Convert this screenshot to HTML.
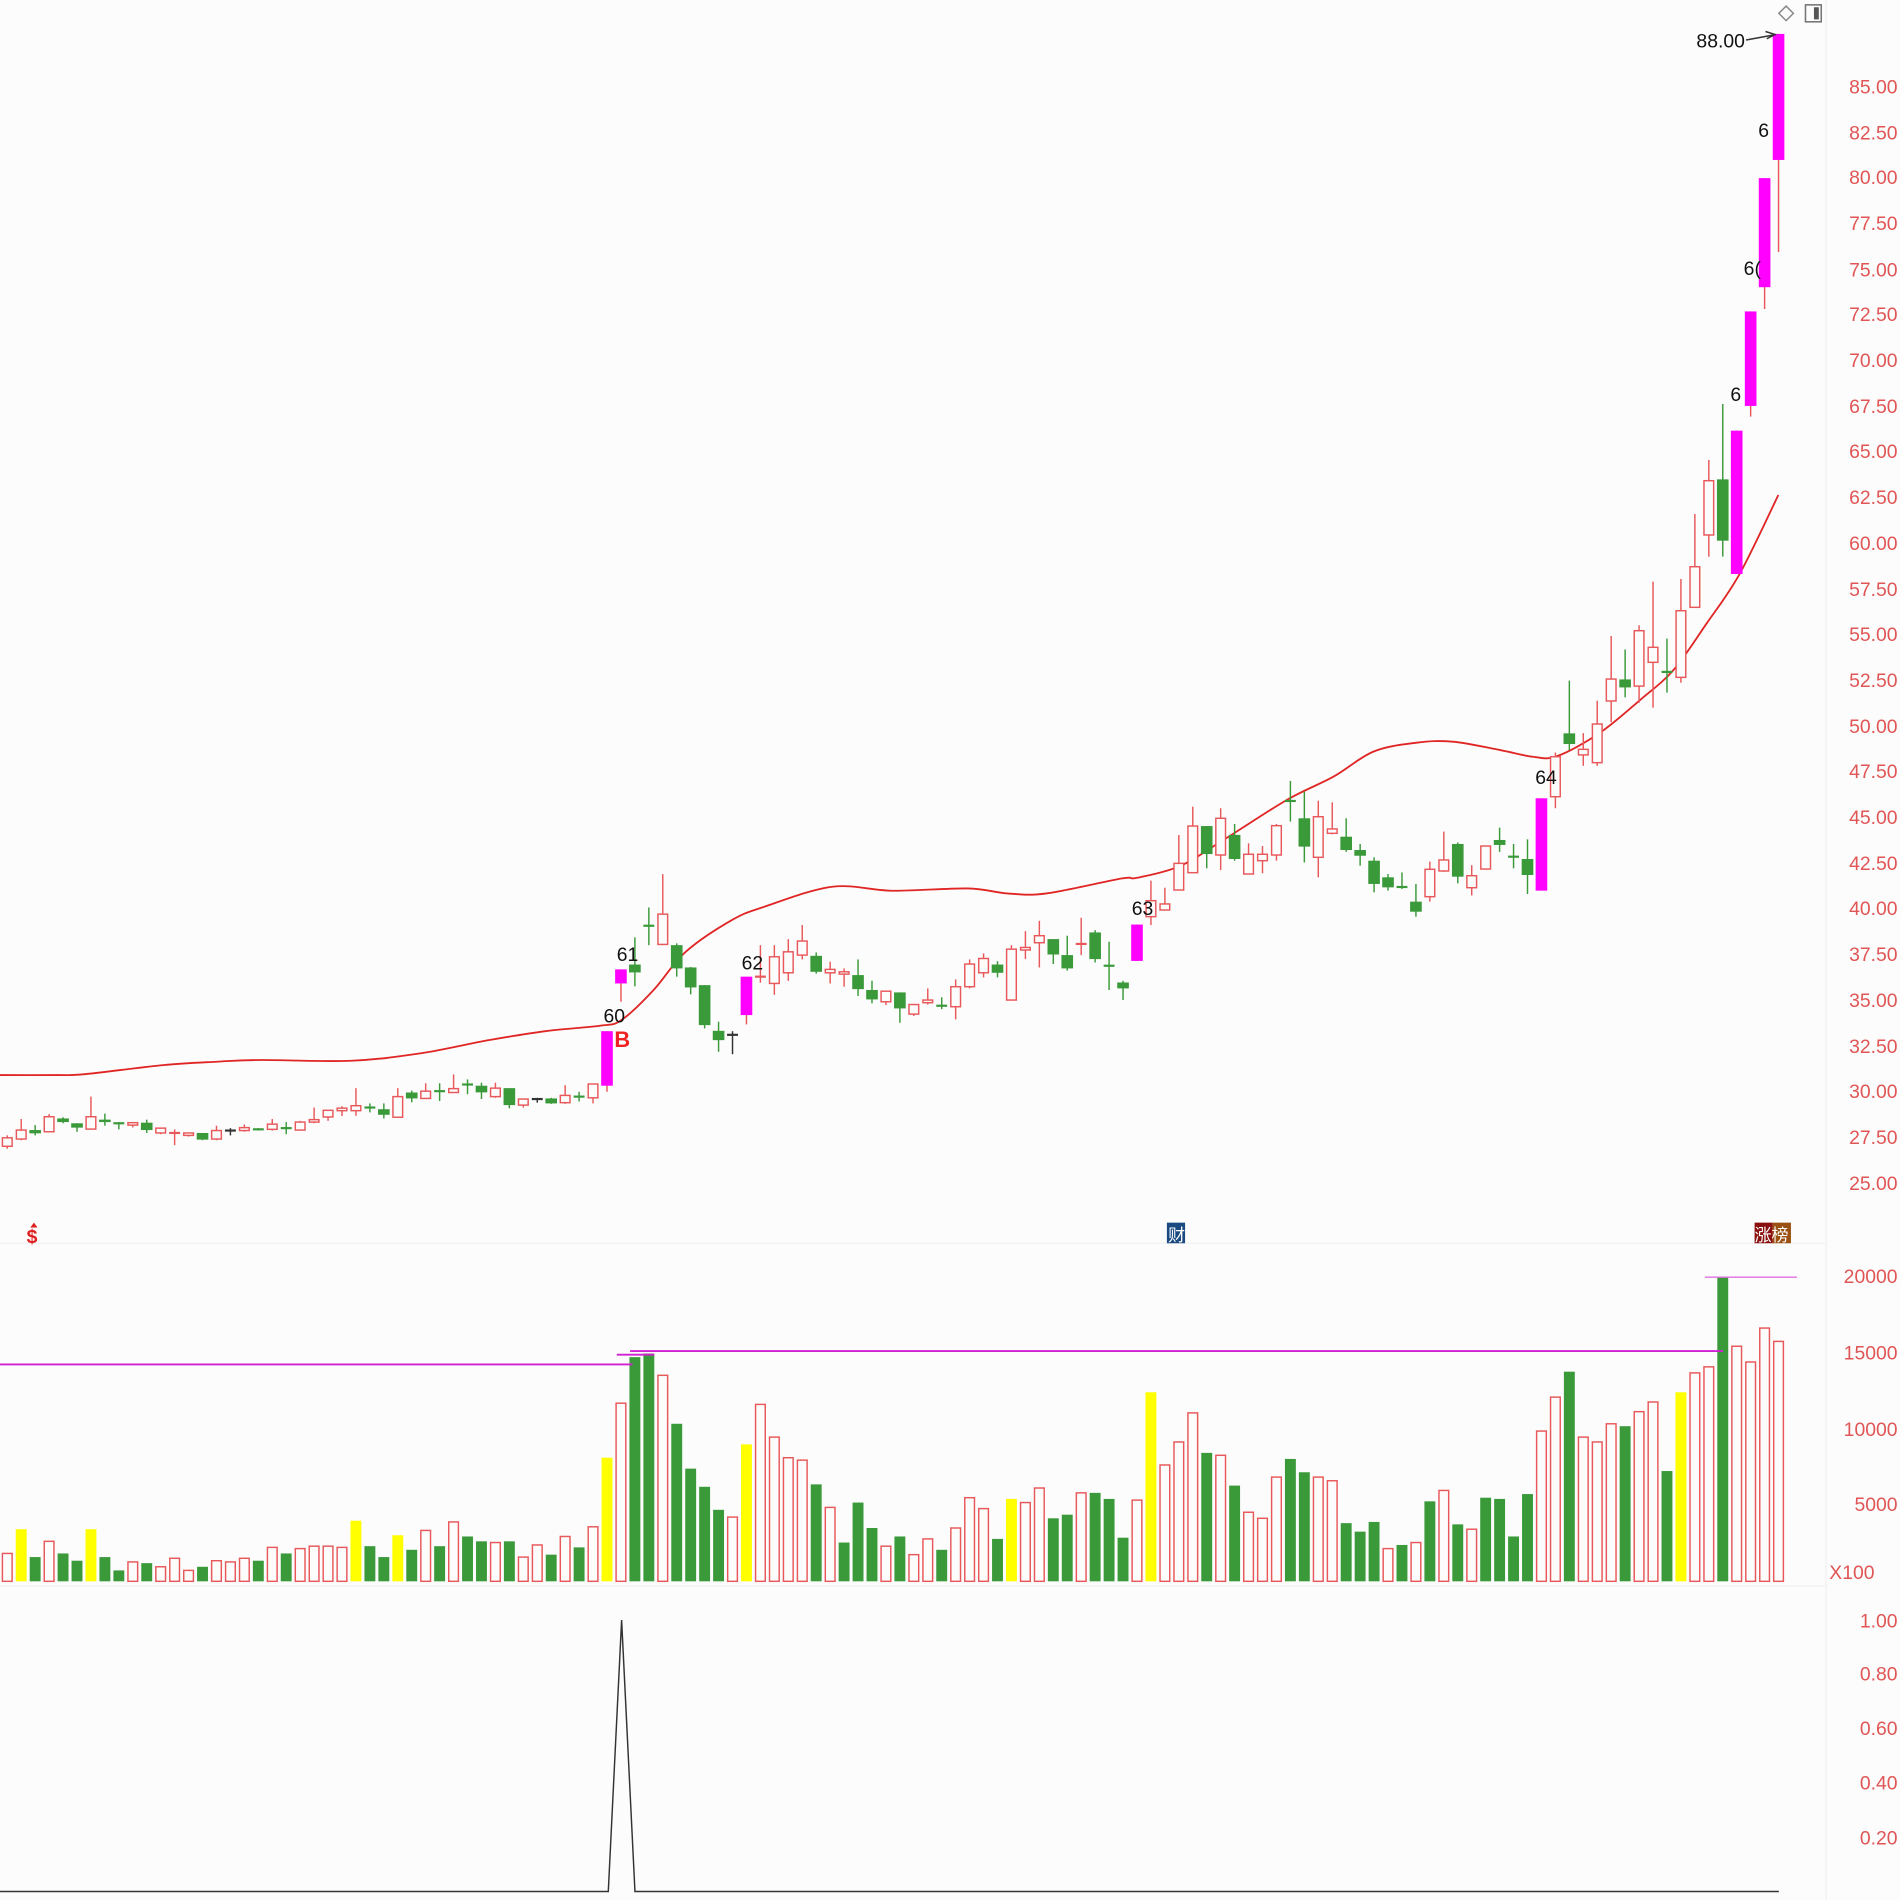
<!DOCTYPE html>
<html><head><meta charset="utf-8"><style>
html,body{margin:0;padding:0;background:#fcfcfc;}
svg{display:block;}
text{font-family:"Liberation Sans","Noto Sans CJK SC",sans-serif;}
</style></head><body>
<svg id="c" width="1900" height="1900" viewBox="0 0 1568 1568" xmlns="http://www.w3.org/2000/svg">
<rect width="1568" height="1568" fill="#fcfcfc"/>
<line x1="0" y1="1026" x2="1507" y2="1026" stroke="#f0f0f0" stroke-width="1"/>
<line x1="0" y1="1309" x2="1507" y2="1309" stroke="#f0f0f0" stroke-width="1"/>
<line x1="1507" y1="0" x2="1507" y2="1568" stroke="#f0f0f0" stroke-width="1"/>
<g id="g"></g>
<g font-size="16" fill="#e05555" text-anchor="end">
<text x="1566" y="77">85.00</text><text x="1566" y="115">82.50</text><text x="1566" y="152">80.00</text>
<text x="1566" y="190">77.50</text><text x="1566" y="228">75.00</text><text x="1566" y="265">72.50</text>
<text x="1566" y="303">70.00</text><text x="1566" y="341">67.50</text><text x="1566" y="378">65.00</text>
<text x="1566" y="416">62.50</text><text x="1566" y="454">60.00</text><text x="1566" y="492">57.50</text>
<text x="1566" y="529">55.00</text><text x="1566" y="567">52.50</text><text x="1566" y="605">50.00</text>
<text x="1566" y="642">47.50</text><text x="1566" y="680">45.00</text><text x="1566" y="718">42.50</text>
<text x="1566" y="755">40.00</text><text x="1566" y="793">37.50</text><text x="1566" y="831">35.00</text>
<text x="1566" y="869">32.50</text><text x="1566" y="906">30.00</text><text x="1566" y="944">27.50</text>
<text x="1566" y="982">25.00</text>
<text x="1566" y="1059">20000</text><text x="1566" y="1122">15000</text><text x="1566" y="1185">10000</text>
<text x="1566" y="1247">5000</text><text x="1547" y="1303">X100</text>
<text x="1566" y="1343">1.00</text><text x="1566" y="1387">0.80</text><text x="1566" y="1432">0.60</text>
<text x="1566" y="1477">0.40</text><text x="1566" y="1522">0.20</text>
</g>
<g font-size="16" fill="#111">
<text x="498" y="844">60</text><text x="509" y="793">61</text><text x="612" y="800">62</text>
<text x="934" y="755">63</text><text x="1267" y="647">64</text><text x="1428" y="331">6</text>
<text x="1439" y="227">6(</text><text x="1451" y="113">6</text>
<text x="1400" y="39">88.00</text>
</g>
<text x="507" y="864" font-size="18" font-weight="bold" fill="#ee2222">B</text>
<line x1="1441" y1="33" x2="1463" y2="29" stroke="#333" stroke-width="1.2"/>
<path d="M1457,26 L1465,28.5 L1458,32" fill="none" stroke="#333" stroke-width="1.2"/>
<path d="M1474,5 L1480,11 L1474,17 L1468,11 Z" fill="none" stroke="#888" stroke-width="1.2"/>
<rect x="1490" y="4" width="13" height="14" fill="none" stroke="#777" stroke-width="1.3"/>
<rect x="1497" y="6" width="4" height="10" fill="#555"/>
<text x="22" y="1026" font-size="16" font-weight="bold" fill="#e02020">$</text>
<path d="M25,1013 L28,1009 L31,1013 Z" fill="#e02020"/>
<rect x="963" y="1009" width="15" height="17" fill="#1a4a80"/>
<text x="964" y="1024" font-size="14" fill="#fff">财</text>
<rect x="1448" y="1009" width="15" height="17" fill="#8a1010"/>
<rect x="1463" y="1009" width="15" height="17" fill="#9a5010"/>
<text x="1448" y="1024" font-size="14" fill="#fff">涨榜</text>
</svg>
<script>
var C=[
['r',939,946,937,948],['r',932.6,940,923.5,941],['g',932.6,935.3,928.5,937],['r',921.6,934,919.4,934],['g',923,926,922,927],
['g',927,930.6,927,934],['r',921.6,931.8,905,932],['g',924,926,919,929],['g',927,927.5,926,932],['r',926.5,928.5,926,930.4],
['g',926.5,932.6,924,935],['r',931,935,931,936],['r',935,936.5,932,945],['r',935,937,935,938],['g',935,940.5,935,941],
['r',933,940,929,941],['k',933,933.5,931,937],['r',930.6,933,928,934],['g',932,932.5,931,933],['r',927.7,932,923.5,933],
['g',931,931.5,926,936],['r',926,932.6,925,933],['r',924,926,914,927],['r',916.3,921.8,916,925],['r',914.5,916.6,913,921],
['r',912.5,916.6,898,920.8],['g',914,915.5,910.6,918],['g',915.4,920,910.6,923],['r',905,922,898,922],['g',901.6,906.5,900,909.7],
['r',900.5,906.5,894,907],['g',900.5,901.5,894,908.6],['r',898.4,901.6,886.7,902],['g',895,896,890.8,903],['g',896,901.5,893.5,907],
['r',898,905,893.5,906],['g',898,912,898,914.7],['r',907,912,907,914],['k',907,907.5,906,910],['g',906.5,910.6,906,911],
['r',904,910,895.6,911],['g',905,905.5,901,909],['r',894.6,906,894.6,910.6],['p',851,896,851,901],['p',800,811.6,800,826.7],
['g',796,802.5,773.6,814],['g',764,765,748.9,780],['r',754.4,779.4,721.4,780],['g',780,799.2,778.5,806],['g',798.4,814.9,798,820.6],
['g',813,846,813,848.7],['g',850.7,858.4,843.2,868],['k',854,855,851,870],['p',806,837.7,806,845.4],['r',806,807,780,811],
['r',789.6,811.6,780,821],['r',785.5,802.8,775,809.5],['r',776.6,788.2,763.4,791.8],['g',788.8,802,786,803.5],['r',800,802.8,793.7,811.6],
['r',802,803.9,799.2,814.3],['g',804.7,816.3,791.8,822],['g',817,824.8,809.4,828],['r',818,826.7,818,829.5],['g',819,832.2,819,844],
['r',829,836.9,829,838.5],['r',825.3,827.5,815.7,829],['g',830,831,823,832.8],['r',814.3,830.8,808.3,841.3],['r',795.6,814.3,791.8,815.7],
['r',791,802.8,786.8,806.6],['g',796,802.8,793.2,806.6],['r',783.3,825.3,780,825.3],['r',781.9,784,768.4,791.5],['r',772.2,778,759.9,798.4],
['g',775,787.7,775,795.6],['g',788.2,799.2,772.2,801],['r',779,780,757.4,788.2],['g',769.5,791.5,767.6,794.3],['g',797,798,777.2,817],
['g',810.8,815.7,809.4,825.3],['p',763,793,763,793],['r',743.3,756.5,726.8,763.4],['r',746,751,732.6,751],['r',712.5,734.5,689.1,734.5],
['r',681.7,720.2,665.7,720.2],['g',681.7,704.8,681.7,716.6],['r',675.3,705.6,667,718],['g',689,708.9,680,710.3],['r',705,721.3,696,721.3],
['r',705,710.3,698.2,720.7],['r',681.4,705.6,680,710.3],['g',661,662,644.5,678],['g',675.3,698.7,653.3,711.7],['r',674,707.5,660.8,724],
['r',684.1,687.7,662.1,688.5],['g',690.5,701.5,675.3,703],['g',701.5,706.2,696.5,714.4],['g',710.3,729.5,707.5,736.4],['g',724,732.3,721.3,735],
['g',732,733,720,733.6],['g',744.1,752.4,729.5,756.5],['r',717.4,740,711,744.1],['r',709.7,718.8,686.3,719.5],['g',696.5,723.5,695.2,729],
['r',722.7,732.6,714,739],['r',698.2,717.2,698.2,717.2],['g',693.2,697.3,683,703],['g',707,708,696.5,716.6],['g',708.9,722.1,692.7,737.8],
['p',658.8,735,658.8,735],['r',624.5,657.5,621,667],['g',605.2,614,561.7,619],['r',618.4,623,605,632],['r',597.5,629.4,578.3,632],
['r',560.4,578.5,524.9,596],['g',560.7,567.3,536,575.5],['r',520.5,566.2,516,580],['r',534.2,546.6,480,584],['g',554.5,555.5,527,571.6],
['r',504,559,477.8,563.4],['r',467.7,501.2,424.2,501.2],['r',396.7,441.5,379.6,459.4],['g',395.6,446.2,333.4,459.4],['p',355.4,473.7,355.4,473.7],
['p',257,335,257,343.8],['p',147,237,147,255],['p',28,132,28,208]];
var V=[['r',1282],['y',1262],['g',1285],['r',1272],['g',1282],['g',1288],['y',1262],['g',1285],['g',1296],['r',1289],
['g',1290],['r',1293],['r',1286],['r',1296],['g',1293],['r',1288],['r',1289],['r',1286],['g',1288],['r',1277],
['g',1282],['r',1278],['r',1276],['r',1276],['r',1277],['y',1255],['g',1276],['g',1285],['y',1267],['g',1279],
['r',1263],['g',1276],['r',1256],['g',1268],['g',1272],['r',1273],['g',1272],['r',1285],['r',1275],['g',1283],
['r',1268],['g',1277],['r',1260],['y',1203],['r',1158],['g',1120],['g',1117],['r',1135],['g',1175],['g',1212],
['g',1227],['g',1246],['r',1252],['y',1192],['r',1159],['r',1186],['r',1203],['r',1205],['g',1225],['r',1244],
['g',1273],['g',1240],['g',1261],['r',1276],['g',1268],['r',1283],['r',1270],['g',1279],['r',1261],['r',1236],
['r',1245],['g',1270],['y',1237],['r',1240],['r',1228],['g',1253],['g',1250],['r',1232],['g',1232],['g',1237],
['g',1269],['r',1238],['y',1149],['r',1209],['r',1190],['r',1166],['g',1199],['r',1201],['g',1226],['r',1248],
['r',1253],['r',1219],['g',1204],['g',1215],['r',1219],['r',1222],['g',1257],['g',1264],['g',1256],['r',1278],
['g',1275],['r',1273],['g',1239],['r',1230],['g',1258],['r',1262],['g',1236],['g',1237],['g',1268],['g',1233],
['r',1181],['r',1153],['g',1132],['r',1186],['r',1190],['r',1175],['g',1177],['r',1165],['r',1157],['g',1214],
['y',1149],['r',1133],['r',1128],['g',1054],['r',1111],['r',1124],['r',1096],['r',1107]];
var R='#e8585a',G='#3a9a3a',P='#ff00ff',K='#333',Y='#ffff00';
var s='';
function X(i){return 6+i*11.51;}
var ma=[[0,887.2],[47,887.2],[70.7,886.4],[134.7,879],[178.5,876.2],[215.6,874.8],[289.7,875.4],[347,869.3],[404,858.3],[450,851],[495,846.5],[512.9,841.8],[539.4,817],[565.9,785.5],[604,759.3],[630.8,748.3],[686.8,731.8],[736.9,735.1],[798.8,733.2],[831.2,737.3],[863.6,737.3],[925.5,725],[938,724.5],[973.8,714.7],[1009.6,693.2],[1061.9,660.2],[1100.4,641],[1133.4,620.3],[1169,612.9],[1199,612.1],[1238,619],[1265,624.5],[1285,624],[1320,605],[1353.5,577.7],[1381,553],[1408.5,514.4],[1436,473],[1467.6,408.5]];
var d='M'+ma[0][0]+','+ma[0][1];
for(var i=0;i<ma.length-1;i++){var p0=ma[Math.max(0,i-1)],p1=ma[i],p2=ma[i+1],p3=ma[Math.min(ma.length-1,i+2)];
 var c1x=p1[0]+(p2[0]-p0[0])/6,c1y=p1[1]+(p2[1]-p0[1])/6,c2x=p2[0]-(p3[0]-p1[0])/6,c2y=p2[1]-(p3[1]-p1[1])/6;
 d+=' C'+c1x.toFixed(1)+','+c1y.toFixed(1)+' '+c2x.toFixed(1)+','+c2y.toFixed(1)+' '+p2[0]+','+p2[1];}
s+='<path fill="none" stroke="#e02525" stroke-width="1.5" d="'+d+'"/>';
for(var i=0;i<C.length;i++){var c=C[i],x=X(i),t=c[0];
 var col=t=='r'?R:t=='g'?G:t=='p'?P:K; var wc=t=='p'?R:col;
 s+='<line x1="'+x+'" y1="'+c[3]+'" x2="'+x+'" y2="'+c[4]+'" stroke="'+wc+'" stroke-width="1.2"/>';
 var h=c[2]-c[1];
 if(h<1.6){s+='<line x1="'+(x-4.5)+'" y1="'+c[1]+'" x2="'+(x+4.5)+'" y2="'+c[1]+'" stroke="'+col+'" stroke-width="1.8"/>';}
 else if(t=='r'){s+='<rect x="'+(x-4)+'" y="'+c[1]+'" width="8" height="'+h+'" fill="#fcfcfc" stroke="'+R+'" stroke-width="1.2"/>';}
 else {s+='<rect x="'+(x-4.8)+'" y="'+c[1]+'" width="9.6" height="'+h+'" fill="'+col+'"/>';}
}
for(var i=0;i<V.length;i++){var v=V[i],x=X(i),h=1305-v[1];
 if(v[0]=='r')s+='<rect x="'+(x-4)+'" y="'+v[1]+'" width="8" height="'+h+'" fill="#fcfcfc" stroke="'+R+'" stroke-width="1.2"/>';
 else s+='<rect x="'+(x-4.5)+'" y="'+v[1]+'" width="9" height="'+h+'" fill="'+(v[0]=='g'?G:Y)+'"/>';
}
s+='<line x1="0" y1="1126" x2="522" y2="1126" stroke="#d020d0" stroke-width="1.5"/>';
s+='<line x1="509" y1="1118" x2="540" y2="1118" stroke="#d020d0" stroke-width="1.5"/>';
s+='<line x1="520" y1="1115" x2="1422" y2="1115" stroke="#d020d0" stroke-width="1.5"/>';
s+='<line x1="1407" y1="1054" x2="1483" y2="1054" stroke="#e070e0" stroke-width="1.2"/>';
s+='<polyline fill="none" stroke="#333" stroke-width="1.2" points="0,1561 502,1561 513,1337 524,1561 1468,1561"/>';
document.getElementById('g').innerHTML=s;
</script>
</body></html>
